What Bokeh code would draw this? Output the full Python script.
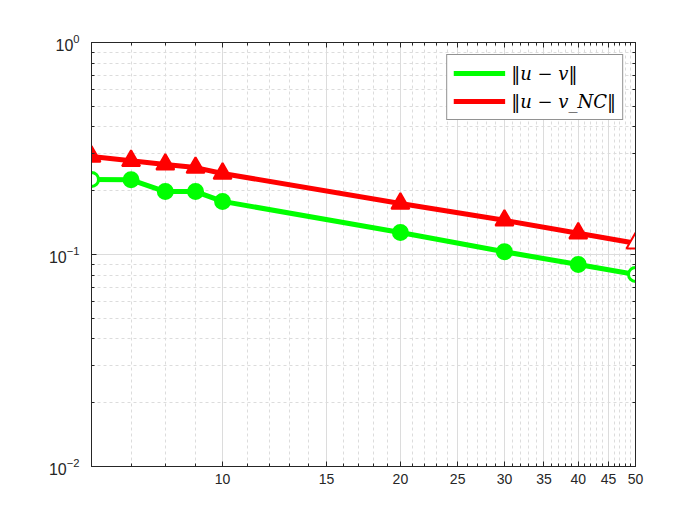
from bokeh.plotting import figure
from bokeh.models import (FixedTicker, LogAxis, LogTickFormatter, Legend, LegendItem,
                          ColumnDataSource, BasicTickFormatter)
from bokeh.embed import file_html
from bokeh.resources import INLINE

# ---- data ----
x_vals = [6, 7, 8, 9, 10, 20, 30, 40, 50]
err_uv = [0.226, 0.225, 0.198, 0.198, 0.178, 0.127, 0.103, 0.0897, 0.0805]
err_uvnc = [0.290, 0.277, 0.266, 0.257, 0.241, 0.174, 0.145, 0.126, 0.113]
x_ticks = [10, 15, 20, 25, 30, 35, 40, 45, 50]
x_minor = [6, 7, 8, 9] + [v for v in range(11, 50) if v % 5 != 0]
y_ticks = [0.01, 0.1, 1.0]
y_minor = [m * 10.0 ** e for e in (-2, -1) for m in range(2, 10)]
label_uv = "‖u − v‖"
label_uvnc = "‖u − v_NC‖"

W, H = 695, 520
BL, BR, BT, BB = 91, W - 635, 42, H - 466
X0, X1, Y0, Y1 = 6, 50, 0.01, 1.0
p = figure(width=W, height=H, x_axis_type="log", y_axis_type="log",
           x_range=(X0, X1), y_range=(Y0, Y1),
           output_backend="svg", toolbar_location=None,
           min_border_left=BL, min_border_right=BR, min_border_top=BT, min_border_bottom=BB)
p.background_fill_color = "white"
p.border_fill_color = "white"
p.outline_line_color = "#262626"
p.outline_line_width = 1

xt = FixedTicker(ticks=x_ticks, minor_ticks=x_minor)
yt = FixedTicker(ticks=y_ticks, minor_ticks=y_minor)

for ax in p.xaxis:
    ax.ticker = xt
    ax.formatter = BasicTickFormatter()
for ax in p.yaxis:
    ax.ticker = yt
    ax.formatter = LogTickFormatter()

def style_axis(ax, fs):
    ax.axis_line_color = "#262626"
    ax.major_tick_in = 5
    ax.major_tick_out = 0
    ax.minor_tick_in = 3
    ax.minor_tick_out = 0
    ax.major_tick_line_color = "#262626"
    ax.minor_tick_line_color = "#262626"
    ax.major_label_text_font = "Liberation Sans"
    ax.major_label_text_font_size = fs
    ax.major_label_text_color = "#262626"

for ax in p.xaxis:
    style_axis(ax, "14px")
    ax.major_label_standoff = 7
for ax in p.yaxis:
    style_axis(ax, "16px")
    ax.major_label_standoff = 12

top = LogAxis(ticker=xt)
style_axis(top, "0px")
top.major_label_text_color = None
p.add_layout(top, "above")
right = LogAxis(ticker=yt)
style_axis(right, "0px")
right.major_label_text_color = None
p.add_layout(right, "right")

for g in (p.xgrid, p.ygrid):
    g.grid_line_color = "#dcdcdc"
    g.grid_line_width = 1
    g.minor_grid_line_color = "#dcdcdc"
    g.minor_grid_line_dash = "3 3"
    g.minor_grid_line_width = 1

green = "#00ff00"
red = "#ff0000"
x_lo, x_hi = x_vals[0], x_vals[-1]
g_fill = ["white" if v in (x_lo, x_hi) else green for v in x_vals]
r_fill = ["white" if v == x_hi else red for v in x_vals]

src_g = ColumnDataSource(dict(x=x_vals, y=err_uv, fc=g_fill))
src_r = ColumnDataSource(dict(x=x_vals, y=err_uvnc, fc=r_fill))

lg = p.line("x", "y", source=src_g, line_color=green, line_width=5)
sg = p.scatter("x", "y", source=src_g, marker="circle", size=14,
               fill_color="fc", line_color=green, line_width=3)
lr = p.line("x", "y", source=src_r, line_color=red, line_width=5)
sr = p.scatter("x", "y", source=src_r, marker="triangle", size=18,
               fill_color="fc", line_color=red, line_width=2)

# legend sample markers (filled)
sg_leg = p.scatter([], [], marker="circle", size=14, fill_color=green, line_color=green)
sr_leg = p.scatter([], [], marker="triangle", size=18, fill_color=red, line_color=red)

legend = Legend(items=[LegendItem(label=label_uv, renderers=[lg, sg_leg]),
                       LegendItem(label=label_uvnc, renderers=[lr, sr_leg])],
                location="top_right")
legend.label_text_font = "DejaVu Serif"
legend.label_text_font_style = "italic"
legend.label_text_font_size = "18px"
legend.label_text_color = "black"
legend.border_line_color = "#262626"
legend.border_line_width = 1
legend.glyph_width = 52
legend.glyph_height = 24
legend.label_height = 24
legend.spacing = 4
legend.padding = 6
legend.margin = 12
legend.label_standoff = 6
legend.background_fill_alpha = 1
p.add_layout(legend)

open("out.html", "w").write(file_html(p, INLINE))
